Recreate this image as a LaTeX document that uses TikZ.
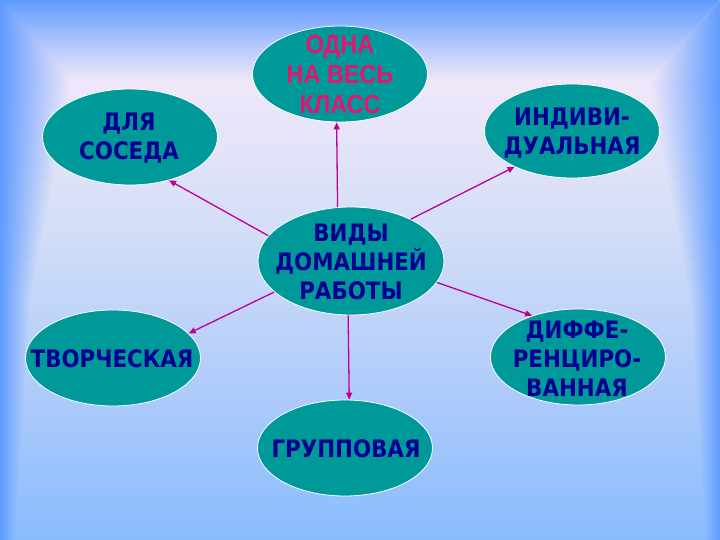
\documentclass[tikz,border=0pt]{standalone}
\usepackage{fontspec}
\setmainfont{DejaVu Sans}
\newfontfamily\lblfont{DejaVu Sans}[FakeStretch=0.89]
\newfontfamily\pinkfont{Liberation Sans}[FakeStretch=0.9]
\usetikzlibrary{shapes.geometric,arrows.meta,fadings}
\definecolor{bgblue}{RGB}{95,155,255}
\definecolor{bgpink}{RGB}{253,236,250}
\definecolor{bgA}{RGB}{128,185,255}
\definecolor{bgB}{RGB}{175,203,250}
\definecolor{bgC}{RGB}{212,222,248}
\definecolor{tealfill}{RGB}{0,153,153}
\definecolor{navytext}{RGB}{0,0,145}
\definecolor{pinktext}{RGB}{228,20,112}
\definecolor{arrcol}{RGB}{190,0,150}
\pgfdeclareverticalshading{bgshade}{100bp}{color(0bp)=(bgblue); color(22bp)=(bgA); color(39bp)=(bgB); color(54bp)=(bgC); color(74bp)=(bgpink); color(100bp)=(bgpink)}
\tikzfading[name=fadeleft, left color=transparent!0, right color=transparent!100]
\tikzfading[name=faderight, left color=transparent!100, right color=transparent!0]
\tikzfading[name=fadetop, top color=transparent!0, bottom color=transparent!100]
\tikzset{
  bub/.style={ellipse, fill=tealfill, draw=white, line width=0.8pt, inner sep=0pt,
    minimum width=175pt, minimum height=96pt},
  hub/.style={bub, minimum width=186pt, minimum height=108pt},
  lbl/.style={text=navytext, font=\lblfont\bfseries\fontsize{24}{28.8}\selectfont,
    align=center, inner sep=0pt},
  pinklbl/.style={text=pinktext, font=\pinkfont\bfseries\fontsize{26}{30}\selectfont,
    align=center, inner sep=0pt},
  arr/.style={draw=arrcol, line width=1.3pt, -{Triangle[length=7pt,width=6pt]}}
}
\begin{document}
\begin{tikzpicture}[x=1pt,y=-1pt]
\useasboundingbox (0,0) rectangle (720,540);
% background
\shade[shading=bgshade] (0,0) rectangle (720,540);
\fill[bgblue, path fading=fadetop] (0,0) -- (720,0) -- (650,80) -- (72,80) -- cycle;
\fill[bgblue, path fading=fadeleft] (0,0) -- (72,80) -- (0,80) -- cycle;
\fill[bgblue, path fading=faderight] (720,0) -- (720,80) -- (650,80) -- cycle;
\foreach \i in {0,...,45} {
  \pgfmathsetmacro{\ya}{80+10*\i}
  \pgfmathsetmacro{\yb}{\ya+10.4}
  \pgfmathsetmacro{\w}{\i<22 ? 72-42*(\i+0.5)/22 : 30-15*(\i-21.5)/24}
  \fill[bgblue, path fading=fadeleft] (0,\ya) rectangle (\w,\yb);
  \fill[bgblue, path fading=faderight] (720-\w,\ya) rectangle (720,\yb);
}
% ellipses
\node[hub] (c) at (351,261) {};
\node[bub] (top) at (340,74) {};
\node[bub] (sos) at (130,137) {};
\node[bub, minimum height=94pt] (ind) at (572,131) {};
\node[bub] (tvo) at (113,358) {};
\node[bub] (dif) at (578,357) {};
\node[bub] (gru) at (345,448) {};
% texts
\node[lbl] (ct) at (351,262) {ВИДЫ\\ДОМАШНЕЙ\\РАБОТЫ};
\node[pinklbl] (topt) at (340,75) {ОДНА\\НА ВЕСЬ\\КЛАСС};
\node[lbl] (sost) at (129,138) {ДЛЯ\\СОСЕДА};
\node[lbl] (indt) at (572,133) {ИНДИВИ-\\ДУАЛЬНАЯ};
\node[lbl] (tvot) at (112,359) {ТВОРЧЕСКАЯ};
\node[lbl] (dift) at (577,359) {ДИФФЕ-\\РЕНЦИРО-\\ВАННАЯ};
\node[lbl] (grut) at (346,449) {ГРУППОВАЯ};
% connectors
\draw[arr] (c.104.8) -- (top.266.6);
\draw[arr] (c.163.2) -- (sos.312);
\draw[arr] (c.35) -- (ind.212.5);
\draw[arr] (c.202.8) -- (tvo.18.7);
\draw[arr] (c.-14) -- (dif.138.8);
\draw[arr] (c.267) -- (gru.85);
\end{tikzpicture}
\end{document}
